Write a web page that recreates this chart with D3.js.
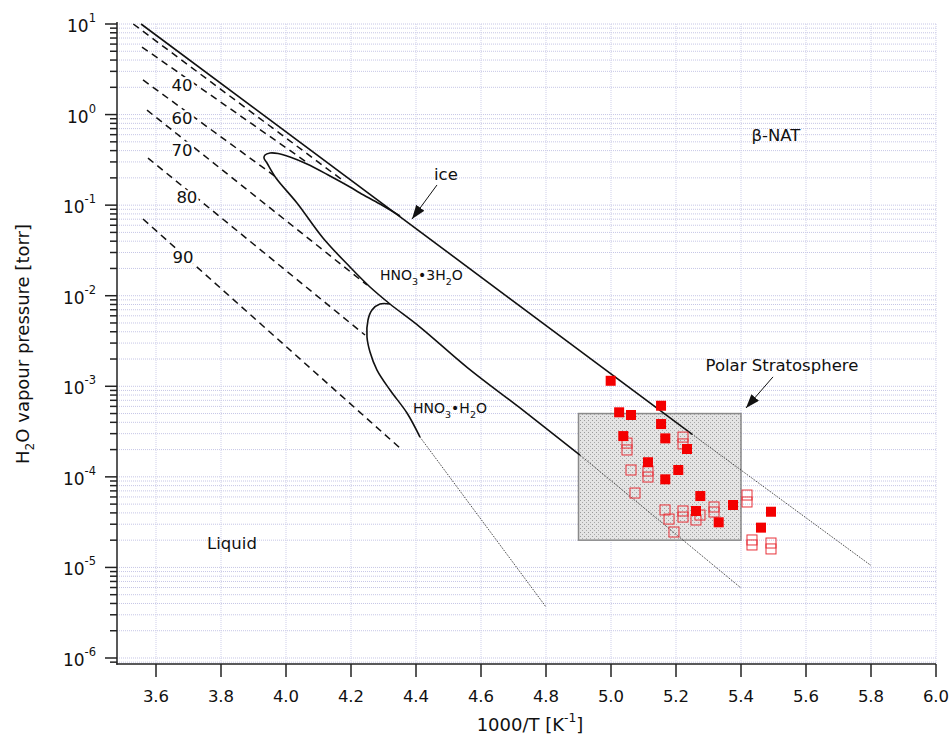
<!DOCTYPE html>
<html>
<head>
<meta charset="utf-8">
<script src="https://cdn.jsdelivr.net/npm/d3@7"></script>
<style>
  body { margin: 0; background: #fff; }
  text { font-family: "DejaVu Sans", Verdana, sans-serif; fill: #111; }
</style>
</head>
<body>
<svg id="chart" width="952" height="736"></svg>
<script>
// ---- data (x = 1000/T, y = H2O pressure in torr) ----
var xTicks = [3.6, 3.8, 4.0, 4.2, 4.4, 4.6, 4.8, 5.0, 5.2, 5.4, 5.6, 5.8, 6.0];
var yDecades = [-6, -5, -4, -3, -2, -1, 0, 1];

var iceLine   = [[3.554, 10], [5.25, 2.95e-4]];
var iceExtrap = [[5.25, 2.95e-4], [5.80, 1.05e-5]];

// HNO3.3H2O existence curve: from ice line, round the tip, down to the NAM line
var natLine = [[4.3508, 7.59e-2], [4.2892, 0.1029], [4.2277, 0.1362], [4.1969, 0.1586],
  [4.1354, 0.2098], [4.0646, 0.2845], [4.0123, 0.340], [3.9754, 0.3717], [3.9508, 0.3764],
  [3.9354, 0.3577], [3.9323, 0.3314], [3.9415, 0.2920], [3.9692, 0.1994], [4.0338, 0.1056],
  [4.1138, 0.04337], [4.1969, 0.02075], [4.2585, 0.01248], [4.32, 8.10e-3], [4.4123, 4.51e-3],
  [4.56, 1.59e-3], [4.72, 5.76e-4], [4.9046, 1.74e-4]];
var natExtrap = [[4.9046, 1.74e-4], [5.40, 5.93e-6]];

// HNO3.H2O curve
var namLine = [[4.32, 8.10e-3], [4.2892, 8.10e-3], [4.2646, 6.96e-3], [4.2523, 5.39e-3],
  [4.2492, 3.50e-3], [4.2585, 2.39e-3], [4.28, 1.51e-3], [4.32, 9.10e-4], [4.3723, 5.07e-4],
  [4.4123, 2.75e-4]];
var namExtrap = [[4.4123, 2.75e-4], [4.80, 3.66e-6]];

// liquid isopleths (wt% HNO3), dashed
var isoNames = ["", "40", "60", "70", "80", "90"];
var isoLines = [
  [[3.530, 10], [4.1815, 0.180]],
  [[3.5569, 5.57], [4.0585, 0.307]],
  [[3.560, 2.41], [3.9692, 0.2045]],
  [[3.5723, 1.12], [4.2492, 0.01313]],
  [[3.5754, 0.331], [4.2431, 3.68e-3]],
  [[3.560, 0.0703], [4.3508, 2.08e-4]]
];
var isoLabelAt = [null, [3.68, 2.12], [3.68, 0.917], [3.68, 0.406], [3.695, 0.123], [3.683, 0.0268]];

// polar stratosphere box [x0, x1, y0, y1]
var stratBox = [4.9, 5.4, 2e-5, 5e-4];

// field measurements
var filledPts = [[4.999, 1.15e-3], [5.154, 6.10e-4], [5.025, 5.16e-4], [5.0615, 4.82e-4],
  [5.154, 3.83e-4], [5.0378, 2.82e-4], [5.167, 2.66e-4], [5.2338, 2.03e-4], [5.1138, 1.45e-4],
  [5.207, 1.19e-4], [5.167, 9.39e-5], [5.2748, 6.14e-5], [5.3754, 4.89e-5], [5.2615, 4.20e-5],
  [5.3314, 3.15e-5], [5.4923, 4.12e-5], [5.4615, 2.75e-5]];
var openPts = [[5.0492, 2.36e-4], [5.0492, 1.98e-4], [5.2215, 2.75e-4], [5.2215, 2.31e-4],
  [5.0615, 1.19e-4], [5.1138, 1.16e-4], [5.1138, 9.96e-5], [5.0738, 6.63e-5], [5.1662, 4.31e-5],
  [5.1785, 3.42e-5], [5.2215, 4.20e-5], [5.2215, 3.60e-5], [5.2615, 3.34e-5], [5.2738, 3.79e-5],
  [5.317, 4.65e-5], [5.317, 4.09e-5], [5.1938, 2.46e-5], [5.4185, 6.30e-5], [5.4185, 5.28e-5],
  [5.4338, 2.01e-5], [5.4338, 1.77e-5], [5.4923, 1.86e-5], [5.4923, 1.60e-5]];

// ---- drawing ----
var svg = d3.select("#chart");
var x = d3.scaleLinear().domain([3.48, 6.0]).range([117, 936]);
var y = d3.scaleLog().domain([8.585e-7, 10]).range([664, 24]);

var defs = svg.append("defs");
var pat = defs.append("pattern").attr("id", "stipple").attr("patternUnits", "userSpaceOnUse")
  .attr("width", 4).attr("height", 4);
pat.append("rect").attr("width", 4).attr("height", 4).attr("fill", "#e4e4e4");
pat.append("rect").attr("x", 0).attr("y", 0).attr("width", 1).attr("height", 1).attr("fill", "#9a9a9a");
pat.append("rect").attr("x", 2).attr("y", 2).attr("width", 1).attr("height", 1).attr("fill", "#a8a8a8");

defs.append("marker").attr("id", "arrow").attr("markerUnits", "userSpaceOnUse")
  .attr("viewBox", "0 0 14 10").attr("refX", 14).attr("refY", 5)
  .attr("markerWidth", 14).attr("markerHeight", 10).attr("orient", "auto")
  .append("path").attr("d", "M0,0 L14,5 L0,10 z").attr("fill", "#111");

// grid
var grid = svg.append("g");
grid.selectAll("line.h").data(y.ticks()).enter().append("line")
  .attr("x1", 117).attr("x2", 936)
  .attr("y1", function(d) { return y(d); }).attr("y2", function(d) { return y(d); })
  .attr("stroke", "#c6c6e6").attr("stroke-width", 1).attr("stroke-dasharray", "1,1");
grid.selectAll("line.v").data(xTicks).enter().append("line")
  .attr("x1", function(d) { return x(d); }).attr("x2", function(d) { return x(d); })
  .attr("y1", 24).attr("y2", 664)
  .attr("stroke", "#cfcfea").attr("stroke-width", 1).attr("stroke-dasharray", "1,1");

// stratosphere box
svg.append("rect")
  .attr("x", x(stratBox[0])).attr("y", y(stratBox[3]))
  .attr("width", x(stratBox[1]) - x(stratBox[0])).attr("height", y(stratBox[2]) - y(stratBox[3]))
  .attr("fill", "url(#stipple)").attr("stroke", "#8a8a8a").attr("stroke-width", 1.5);

var line = d3.line().x(function(d) { return x(d[0]); }).y(function(d) { return y(d[1]); });
var smooth = d3.line().x(function(d) { return x(d[0]); }).y(function(d) { return y(d[1]); })
  .curve(d3.curveCatmullRom.alpha(0.5));

function solid(data, gen) {
  svg.append("path").attr("d", gen(data)).attr("fill", "none")
    .attr("stroke", "#111").attr("stroke-width", 1.6);
}
function dotted(data) {
  svg.append("path").attr("d", line(data)).attr("fill", "none")
    .attr("stroke", "#222").attr("stroke-width", 1).attr("stroke-dasharray", "1,1.2");
}

isoLines.forEach(function(d) {
  svg.append("path").attr("d", line(d)).attr("fill", "none")
    .attr("stroke", "#111").attr("stroke-width", 1.5).attr("stroke-dasharray", "7,5");
});

solid(iceLine, line);
dotted(iceExtrap);
solid(natLine, smooth);
dotted(natExtrap);
solid(namLine, smooth);
dotted(namExtrap);

// points
svg.append("g").selectAll("rect").data(openPts).enter().append("rect")
  .attr("x", function(d) { return x(d[0]) - 5; }).attr("y", function(d) { return y(d[1]) - 5; })
  .attr("width", 10).attr("height", 10)
  .attr("fill", "none").attr("stroke", "#e8323a").attr("stroke-width", 1);
svg.append("g").selectAll("rect").data(filledPts).enter().append("rect")
  .attr("x", function(d) { return x(d[0]) - 5; }).attr("y", function(d) { return y(d[1]) - 5; })
  .attr("width", 10).attr("height", 10).attr("fill", "#f40000");

// axes
var axes = svg.append("g").attr("stroke", "#222").attr("stroke-width", 1.5);
axes.append("line").attr("x1", 117).attr("x2", 117).attr("y1", 22).attr("y2", 664.75);
axes.append("line").attr("x1", 116.25).attr("x2", 936).attr("y1", 664).attr("y2", 664);
axes.selectAll("line.xt").data(xTicks).enter().append("line")
  .attr("x1", function(d) { return x(d); }).attr("x2", function(d) { return x(d); })
  .attr("y1", 664).attr("y2", 677);
axes.selectAll("line.ym").data(y.ticks()).enter().append("line")
  .attr("x1", function(d) {
    var m = Math.abs(Math.log10(d) - Math.round(Math.log10(d))) < 1e-9;
    return m ? 105 : 110;
  }).attr("x2", 117)
  .attr("y1", function(d) { return y(d); }).attr("y2", function(d) { return y(d); });

svg.append("g").selectAll("text").data(xTicks).enter().append("text")
  .attr("x", function(d) { return x(d); }).attr("y", 702)
  .attr("text-anchor", "middle").attr("font-size", 16.5)
  .text(function(d) { return d.toFixed(1); });

yDecades.forEach(function(k) {
  var t = svg.append("text").attr("x", 96).attr("y", y(Math.pow(10, k)) + 8)
    .attr("text-anchor", "end").attr("font-size", 17);
  t.append("tspan").text("10");
  t.append("tspan").attr("font-size", 11.5).attr("dy", -10).text(k);
});

// rich text helper: parts = [[text, "n"|"sub"|"sup"], ...]
function rich(g, parts, size) {
  var shift = 0;
  parts.forEach(function(p) {
    var want = p[1] === "sub" ? 5 : p[1] === "sup" ? -9 : 0;
    var ts = g.append("tspan").attr("dy", want - shift).text(p[0]);
    if (p[1] !== "n") ts.attr("font-size", size * 0.68);
    shift = want;
  });
  return g;
}

rich(svg.append("text").attr("x", 530).attr("y", 731).attr("text-anchor", "middle").attr("font-size", 18),
  [["1000/T [K", "n"], ["-1", "sup"], ["]", "n"]], 18);
rich(svg.append("text").attr("transform", "translate(29,344) rotate(-90)").attr("text-anchor", "middle")
  .attr("font-size", 18),
  [["H", "n"], ["2", "sub"], ["O vapour pressure [torr]", "n"]], 18);

// isopleth labels
isoNames.forEach(function(n, i) {
  if (!n) return;
  svg.append("text").attr("x", x(isoLabelAt[i][0])).attr("y", y(isoLabelAt[i][1]) + 6)
    .attr("text-anchor", "middle").attr("font-size", 16.5)
    .attr("stroke", "#fff").attr("stroke-width", 5).attr("paint-order", "stroke")
    .text(n);
});

// annotations
svg.append("text").attr("x", x(4.492)).attr("y", y(0.1895)).attr("text-anchor", "middle")
  .attr("font-size", 16.5).text("ice");
svg.append("line").attr("x1", x(4.4646)).attr("y1", y(0.167)).attr("x2", x(4.3877)).attr("y2", y(0.0703))
  .attr("stroke", "#111").attr("stroke-width", 1).attr("marker-end", "url(#arrow)");

svg.append("text").attr("x", x(5.5077)).attr("y", y(0.511)).attr("text-anchor", "middle")
  .attr("font-size", 16.5).text("\u03b2-NAT");
svg.append("text").attr("x", x(5.526)).attr("y", y(1.47e-3)).attr("text-anchor", "middle")
  .attr("font-size", 16.5).text("Polar Stratosphere");
svg.append("line").attr("x1", x(5.4985)).attr("y1", y(1.27e-3)).attr("x2", x(5.4154)).attr("y2", y(5.76e-4))
  .attr("stroke", "#111").attr("stroke-width", 1).attr("marker-end", "url(#arrow)");
svg.append("text").attr("x", x(3.8338)).attr("y", y(1.6e-5)).attr("text-anchor", "middle")
  .attr("font-size", 16.5).text("Liquid");

rich(svg.append("text").attr("x", x(4.2892)).attr("y", y(0.0149)).attr("font-size", 14),
  [["HNO", "n"], ["3", "sub"], ["\u20223H", "n"], ["2", "sub"], ["O", "n"]], 14);
rich(svg.append("text").attr("x", x(4.3908)).attr("y", y(5.07e-4)).attr("font-size", 14),
  [["HNO", "n"], ["3", "sub"], ["\u2022H", "n"], ["2", "sub"], ["O", "n"]], 14);
</script>
</body>
</html>
